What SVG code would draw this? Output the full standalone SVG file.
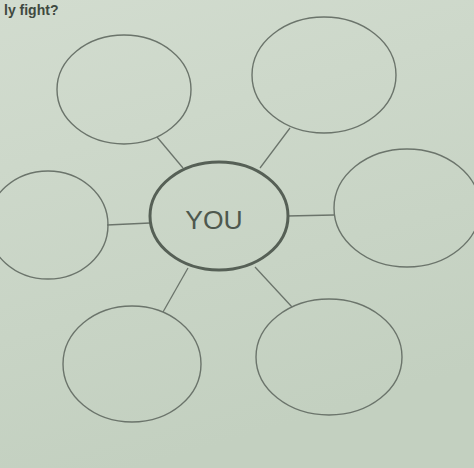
<svg xmlns="http://www.w3.org/2000/svg" width="474" height="468" viewBox="0 0 474 468">
<defs>
<linearGradient id="bg" x1="0" y1="0" x2="0.3" y2="1">
<stop offset="0" stop-color="#d2dccf"/>
<stop offset="1" stop-color="#c3d0c0"/>
</linearGradient>
<style>
.bubble{fill:none;stroke:#6b746b;stroke-width:1.4}
.hub{fill:none;stroke:#566056;stroke-width:3}
.link{stroke:#6b746b;stroke-width:1.3;fill:none}
.lbl{font-family:"Liberation Sans",Arial,sans-serif;font-size:26.5px;fill:#4e584e}
.hdr{font-family:"Liberation Sans",Arial,sans-serif;font-size:14px;font-weight:bold;fill:#3f493f}
</style>
</defs>
<rect width="474" height="468" fill="url(#bg)"/>
<text class="hdr" x="4" y="15">ly fight?</text>
<g id="connectors">
<line class="link" x1="157" y1="137" x2="183" y2="168"/>
<line class="link" x1="290" y1="128" x2="260" y2="168"/>
<line class="link" x1="107" y1="225" x2="150" y2="223"/>
<line class="link" x1="287" y1="216" x2="334" y2="215"/>
<line class="link" x1="163" y1="312" x2="188" y2="268"/>
<line class="link" x1="255" y1="267" x2="292" y2="307"/>
</g>
<g id="you">
<ellipse class="hub" cx="219" cy="216" rx="69" ry="54"/>
<text class="lbl" x="214" y="229" text-anchor="middle">YOU</text>
</g>
<g id="top-left"><ellipse class="bubble" cx="124" cy="89.5" rx="67" ry="54.5"/></g>
<g id="top-right"><ellipse class="bubble" cx="324" cy="75" rx="72" ry="58"/></g>
<g id="left"><ellipse class="bubble" cx="48" cy="225" rx="60" ry="54"/></g>
<g id="right"><ellipse class="bubble" cx="407" cy="208" rx="73" ry="59"/></g>
<g id="bottom-left"><ellipse class="bubble" cx="132" cy="364" rx="69" ry="58"/></g>
<g id="bottom-right"><ellipse class="bubble" cx="329" cy="357" rx="73" ry="58"/></g>
</svg>
